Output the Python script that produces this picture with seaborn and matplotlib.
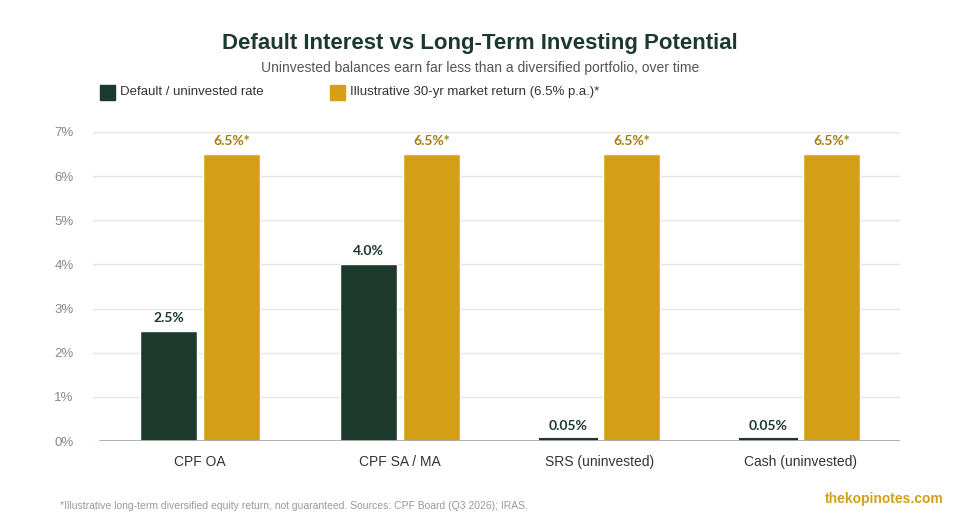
import pandas as pd
import matplotlib
matplotlib.use("Agg")
import matplotlib.pyplot as plt
import seaborn as sns

# Chart data
categories = ["CPF OA", "CPF SA / MA", "SRS (uninvested)", "Cash (uninvested)"]
default_rates = [2.5, 4.0, 0.05, 0.05]
market_rates = [6.5, 6.5, 6.5, 6.5]
default_labels = ["2.5%", "4.0%", "0.05%", "0.05%"]
market_labels = ["6.5%*", "6.5%*", "6.5%*", "6.5%*"]
series_names = ["Default / uninvested rate",
                "Illustrative 30-yr market return (6.5% p.a.)*"]
y_ticks = [0, 1, 2, 3, 4, 5, 6, 7]

DARK = "#1b3a2b"
GOLD = "#d4a017"
GOLD_TEXT = "#a67c12"


def main():
    sns.set_style("white")
    plt.rcParams["font.family"] = ["Liberation Sans", "DejaVu Sans"]

    df = pd.DataFrame({
        "category": categories * 2,
        "rate": default_rates + market_rates,
        "series": [series_names[0]] * 4 + [series_names[1]] * 4,
    })

    fig = plt.figure(figsize=(9.6, 5.2), dpi=100)
    ax = fig.add_axes([93 / 960, 79 / 520, 807 / 960, 309 / 520])

    sns.barplot(data=df, x="category", y="rate", hue="series",
                palette=[DARK, GOLD], width=0.63, gap=0.1,
                saturation=1, errorbar=None, legend=False, ax=ax)

    ax.set_xlim(-0.535, 3.5)
    ax.set_ylim(0, 7)
    ax.set_yticks(y_ticks)
    ax.set_yticklabels([f"{t}%" for t in y_ticks])
    ax.grid(axis="y", color="#e4e4e4", linewidth=1)
    ax.set_axisbelow(True)
    for s in ax.spines.values():
        s.set_visible(False)
    ax.axhline(0, xmin=7 / 807, xmax=1, color="#aaaaaa", linewidth=1.3)
    ax.tick_params(axis="y", length=0, pad=14, labelsize=9.5,
                   labelcolor="#888888")
    ax.tick_params(axis="x", length=0, pad=10, labelsize=10,
                   labelcolor="#333333")
    ax.set_xlabel("")
    ax.set_ylabel("")

    # value labels on top of the bars
    containers = ax.containers
    for cont, labels, color in [(containers[0], default_labels, DARK),
                                (containers[1], market_labels, GOLD_TEXT)]:
        ax.bar_label(cont, labels=labels, padding=5, color=color,
                     fontsize=10, fontweight="bold", family="Lato")
    # keep the tiny bars visible
    for bar in containers[0]:
        if bar.get_height() < 0.2:
            bar.set_edgecolor(DARK)
            bar.set_linewidth(1.5)

    # title, subtitle, legend
    fig.text(0.5, 1 - 43 / 520, "Default Interest vs Long-Term Investing Potential",
             ha="center", va="center", fontsize=16, fontweight="bold",
             color=DARK)
    fig.text(0.5, 1 - 68 / 520,
             "Uninvested balances earn far less than a diversified portfolio, over time",
             ha="center", va="center", fontsize=10, color="#555555")
    for x0, name, color in [(100, series_names[0], DARK),
                            (330, series_names[1], GOLD)]:
        fig.patches.append(plt.Rectangle((x0 / 960, 1 - 100 / 520), 15 / 960,
                                         15 / 520, transform=fig.transFigure,
                                         color=color))
        fig.text((x0 + 20) / 960, 1 - 92 / 520, name, ha="left",
                 va="center", fontsize=9.5, color="#333333")

    # footer
    fig.text(60 / 960, 1 - 506 / 520,
             "*Illustrative long-term diversified equity return, not guaranteed. "
             "Sources: CPF Board (Q3 2026); IRAS.",
             ha="left", va="center", fontsize=7.5, color="#999999")
    fig.text(944 / 960, 1 - 499 / 520, "thekopinotes.com", ha="right",
             va="center", fontsize=10, fontweight="bold", color=GOLD)

    fig.savefig("out.png", dpi=100, facecolor="white")
    plt.close("all")


if __name__ == "__main__":
    main()
